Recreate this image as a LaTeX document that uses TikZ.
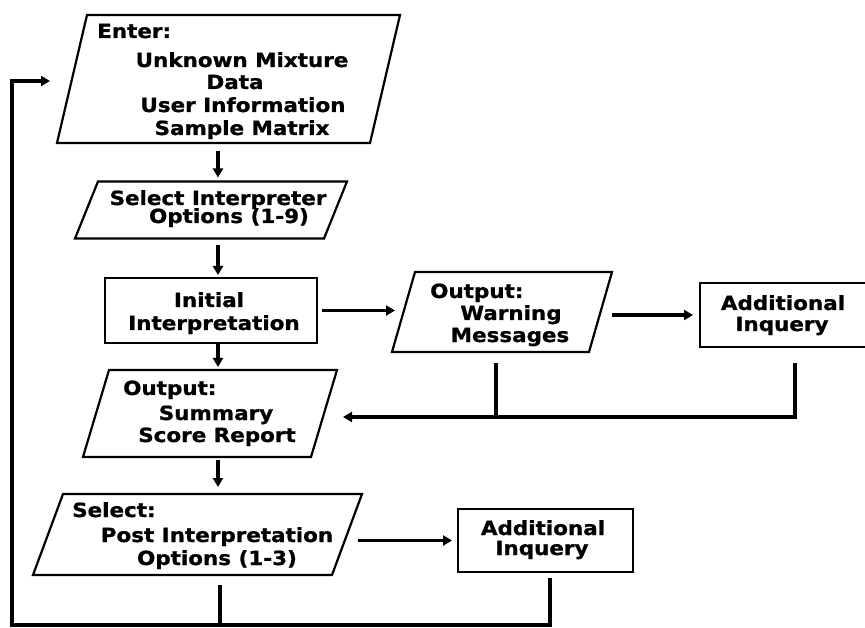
\documentclass[tikz,border=0pt]{standalone}
\usepackage{fontspec}
\setmainfont{DejaVu Sans}
\newfontfamily\flowfam{DejaVu Sans}[FakeStretch=1.1,FakeBold=1]
\usetikzlibrary{arrows.meta}
\newcommand\flowfont{\flowfam\fontsize{19.5}{22}\selectfont\bfseries}
% slanted outline over a named node: #1 node, #2 horizontal slant
\newcommand\slantbox[2]{%
  \draw[outline] ([xshift=#2]#1.north west) -- (#1.north east)
    -- ([xshift=-#2]#1.south east) -- (#1.south west) -- cycle;}
\begin{document}
\begin{tikzpicture}[x=1pt,y=-1pt,
  outline/.style={draw, line width=2.2pt, line join=miter},
  rect/.style={outline, rectangle, inner sep=0pt, outer sep=0pt},
  slanted/.style={rectangle, inner sep=0pt, outer sep=0pt},
  lbl/.style={font=\flowfont, inner sep=0pt},
  flow/.style={line width=3.6pt},
  arr/.style={flow, -{Triangle[length=9pt,width=10pt]}}]
\useasboundingbox (0,0) rectangle (865,628);
\clip (0,0) rectangle (865,628);

% boxes
\node[slanted, minimum width=343pt, minimum height=128pt] (enter) at (228.5,79) {};
\node[slanted, minimum width=272pt, minimum height=57pt] (opts) at (211,210) {};
\node[rect, minimum width=212pt, minimum height=65pt] (init) at (211,310.5) {};
\node[slanted, minimum width=220pt, minimum height=80pt] (warn) at (502,312) {};
\node[rect, minimum width=170pt, minimum height=64pt] (inqA) at (785,315) {};
\node[slanted, minimum width=254pt, minimum height=87pt] (summ) at (210,413.5) {};
\node[slanted, minimum width=329pt, minimum height=81pt] (post) at (197.5,534.5) {};
\node[rect, minimum width=175pt, minimum height=63pt] (inqB) at (545.5,540.5) {};

\slantbox{enter}{30pt}
\slantbox{opts}{23pt}
\slantbox{warn}{23pt}
\slantbox{summ}{26pt}
\slantbox{post}{30pt}

% labels
\node[lbl, anchor=base west] (enterH) at (97,38) {Enter:};
\node[lbl, anchor=base] (enterA) at (242,67) {Unknown Mixture};
\node[lbl, anchor=base] (enterB) at (235,89) {Data};
\node[lbl, anchor=base] (enterC) at (243,112) {User Information};
\node[lbl, anchor=base] (enterD) at (242,135) {Sample Matrix};

\node[lbl, anchor=base] (optsA) at (218,205) {Select Interpreter};
\node[lbl, anchor=base] (optsB) at (229,223) {Options (1-9)};

\node[lbl, anchor=base] (initA) at (209,307) {Initial};
\node[lbl, anchor=base] (initB) at (214,330) {Interpretation};

\node[lbl, anchor=base west] (warnH) at (430,298) {Output:};
\node[lbl, anchor=base] (warnA) at (511,320) {Warning};
\node[lbl, anchor=base] (warnB) at (510,342) {Messages};

\node[lbl, anchor=base] (inqAa) at (783,310) {Additional};
\node[lbl, anchor=base] (inqAb) at (782,331) {Inquery};

\node[lbl, anchor=base west] (summH) at (123,395) {Output:};
\node[lbl, anchor=base] (summA) at (216,420) {Summary};
\node[lbl, anchor=base] (summB) at (217,442) {Score Report};

\node[lbl, anchor=base west] (postH) at (72,517) {Select:};
\node[lbl, anchor=base] (postA) at (217,542) {Post Interpretation};
\node[lbl, anchor=base] (postB) at (217,565) {Options (1-3)};

\node[lbl, anchor=base] (inqBa) at (543,535) {Additional};
\node[lbl, anchor=base] (inqBb) at (542,555) {Inquery};

% routing points
\coordinate (spine) at (218,0);
\coordinate (jw) at (496,417);
\coordinate (je) at (795,417);
\coordinate (bl) at (220,625);
\coordinate (br) at (550,625);
\coordinate (rb) at (12,625);
\coordinate (rt) at (12,81);

% main flow
\draw[arr, shorten <=8pt, shorten >=4pt] (enter.south -| spine) -- (opts.north -| spine);
\draw[arr, shorten <=7pt, shorten >=3pt] (opts.south -| spine) -- (init.north -| spine);
\draw[arr, shorten <=1pt, shorten >=3pt] (init.south -| spine) -- (summ.north -| spine);
\draw[arr, shorten <=3pt, shorten >=7pt] (summ.south -| spine) -- (post.north -| spine);

% side branches
\draw[arr, shorten <=5pt, shorten >=-3pt] (init.east) -- (init.east -| warn.west);
\draw[arr, shorten <=0pt, shorten >=7pt] (warn.east |- inqA.west) -- (inqA.west);
\draw[arr, shorten <=-4pt, shorten >=6pt] (post.east |- inqB.west) -- (inqB.west);

% joins back into the summary report
\draw[flow, shorten <=11pt] (jw |- warn.south) -- (jw);
\draw[flow, shorten <=16pt] (je |- inqA.south) -- (je);
\draw[arr, shorten >=6pt] ([xshift=1.8pt]je) -- (summ.east |- je);

% return loop
\draw[flow, shorten <=10pt] (bl |- post.south) -- (bl);
\draw[arr, shorten <=6pt, shorten >=7pt] (br |- inqB.south) -- (br) -- (rb) -- (rt) -- (enter.west |- rt);
\end{tikzpicture}
\end{document}
